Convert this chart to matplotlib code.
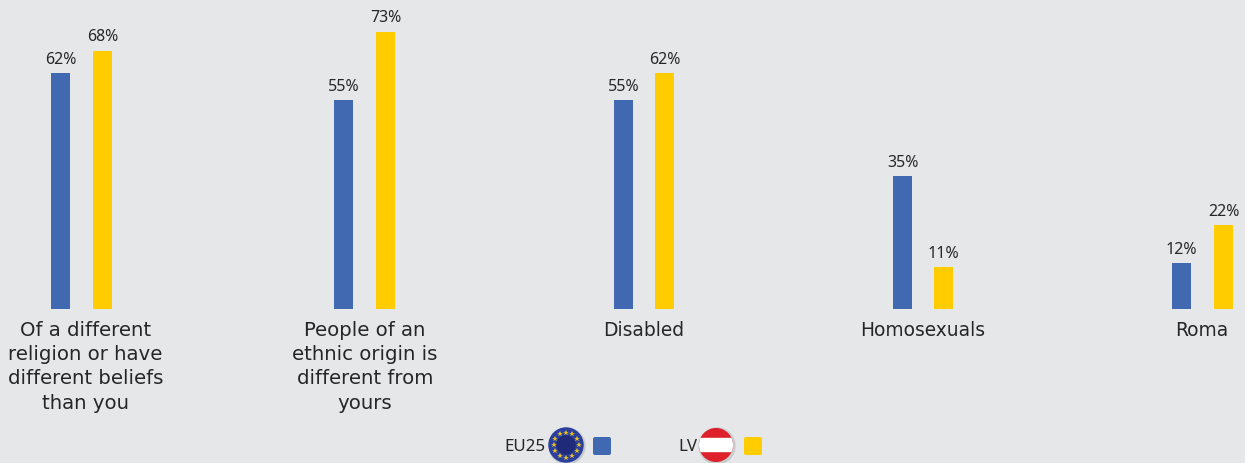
import matplotlib
matplotlib.use("Agg")
import matplotlib.pyplot as plt
import numpy as np
from matplotlib.patches import Circle, FancyBboxPatch, Rectangle

categories = [
    "Of a different\nreligion or have\ndifferent beliefs\nthan you",
    "People of an\nethnic origin is\ndifferent from\nyours",
    "Disabled",
    "Homosexuals",
    "Roma",
]
eu25 = [62, 55, 55, 35, 12]
lv = [68, 73, 62, 11, 22]

# group layout, in pixels of the 1245 wide picture
blue_x = [60.5, 343.5, 623.5, 902.5, 1181.5]
yellow_x = [102.5, 385.5, 664.5, 943.5, 1223.5]
label_x = [85.5, 365, 644, 923, 1202]

BG = "#e6e7e9"
BLUE = "#4169b2"
YELLOW = "#ffcc00"
TEXT = "#262626"
px_per_pct = 3.8
base_y = 309

fig = plt.figure(figsize=(12.45, 4.63), dpi=100, facecolor=BG)
ax = fig.add_axes([0, 0, 1, 1], facecolor=BG)
ax.set_xlim(0, 1245)
ax.set_ylim(-(463 - base_y) / px_per_pct, base_y / px_per_pct)
ax.axis("off")

ax.bar(blue_x, eu25, width=19, color=BLUE)
ax.bar(yellow_x, lv, width=19, color=YELLOW)

for xs, vals in ((blue_x, eu25), (yellow_x, lv)):
    for x, v in zip(xs, vals):
        ax.annotate(f"{v}%", (x, v), xytext=(0, 3.7), textcoords="offset points",
                    ha="center", va="bottom", fontsize=11.5, color=TEXT,
                    family="Noto Sans")

for x, label in zip(label_x, categories):
    # the wrapped labels run a bit wider than the single words
    size = 14.2 if "\n" in label else 13.4
    ax.annotate(label, (x, 0), xytext=(0, -8.5), textcoords="offset points",
                ha="center", va="top", fontsize=size, color=TEXT,
                family="DejaVu Sans", linespacing=1.35)

# legend, drawn in a second axes with pixel coordinates
leg = fig.add_axes([0, 0, 1, 1])
leg.set_xlim(0, 1245)
leg.set_ylim(463, 0)
leg.axis("off")
leg.patch.set_alpha(0)

leg.text(504, 447, "EU25", ha="left", va="center", fontsize=12.2, color=TEXT, family="Noto Sans")
leg.text(678, 447, "LV", ha="left", va="center", fontsize=12.2, color=TEXT, family="Noto Sans")

# EU flag badge
leg.add_patch(Circle((567, 446), 18, color="#c9cacc", zorder=1))
leg.add_patch(Circle((566, 445), 17, color="#2a3f9e", zorder=2))
leg.add_patch(Circle((566, 445), 9, color="#1f2a78", zorder=2))
for a in np.arange(0, 360, 30):
    t = np.deg2rad(a)
    leg.plot(566 + 12.5 * np.cos(t), 445 + 12.5 * np.sin(t), marker="*", ms=4,
             color="#e8c020", mew=0, zorder=3)

# LV flag badge
clip = Circle((716, 445), 17, transform=leg.transData)
leg.add_patch(Circle((717, 446), 18, color="#c9cacc", zorder=1))
top = Rectangle((698, 427), 36, 36, color="#dd2029", zorder=2)
band = Rectangle((698, 438), 36, 13, color="white", zorder=3)
leg.add_patch(top)
leg.add_patch(band)
top.set_clip_path(clip)
band.set_clip_path(clip)

# colour keys
for x, c in ((593, BLUE), (744, YELLOW)):
    leg.add_patch(FancyBboxPatch((x + 2, 439), 14, 14, boxstyle="round,pad=2",
                                 fc=c, ec="none", zorder=2))

fig.savefig("out.png", dpi=100, facecolor=BG)
